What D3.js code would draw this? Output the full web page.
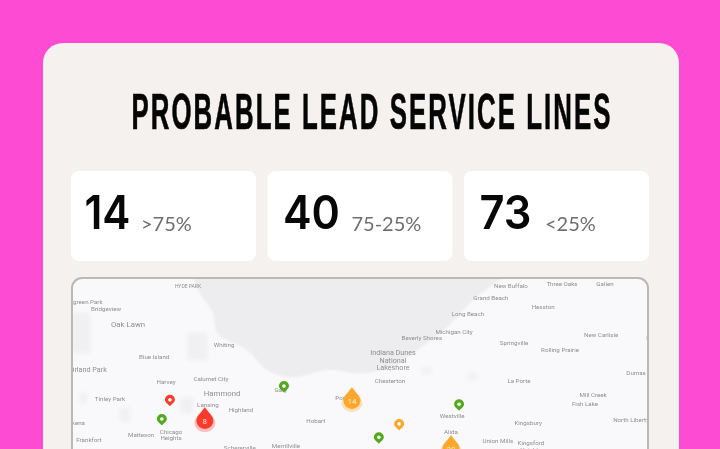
<!DOCTYPE html>
<html><head><meta charset="utf-8">
<style>html,body{margin:0;padding:0;background:#fd4bd3;overflow:hidden}svg{display:block}</style>
<script src="https://cdn.jsdelivr.net/npm/d3@7"></script></head>
<body><svg id="c" width="720" height="449"></svg>
<script>
const titleText = "PROBABLE LEAD SERVICE LINES";
const statValues = [14, 40, 73];
const statLabels = [">75%", "75-25%", "<25%"];
const placeNames = ["HYDE PARK","Evergreen Park","Bridgeview","Oak Lawn","Whiting","Blue Island","Orland Park","Harvey","Calumet City","Gary","Hammond","Tinley Park","Lansing","Highland","Hobart","Matteson","Chicago\nHeights","Frankfort","Schererville","Merrillville","Mokena","Portage","Indiana Dunes\nNational\nLakeshore","Chesterton","New Buffalo","Three Oaks","Galien","Grand Beach","Hesston","Long Beach","Michigan City","Beverly Shores","New Carlisle","Springville","Rolling Prairie","La Porte","Dumas","Mill Creek","Fish Lake","North Liberty","Westville","Kingsbury","Alida","Union Mills","Kingsford\nHeights","Lydick"];
const placeLon = [-87.588,-87.864,-87.801,-87.744,-87.494,-87.676,-87.848,-87.645,-87.528,-87.346,-87.499,-87.791,-87.536,-87.450,-87.255,-87.710,-87.632,-87.846,-87.453,-87.333,-87.885,-87.176,-87.054,-87.062,-86.747,-86.614,-86.502,-86.799,-86.663,-86.859,-86.895,-86.979,-86.512,-86.739,-86.619,-86.726,-86.421,-86.533,-86.554,-86.434,-86.900,-86.702,-86.903,-86.781,-86.695,-86.372];
const placeLat = [41.800,41.769,41.753,41.722,41.680,41.657,41.629,41.606,41.612,41.590,41.580,41.570,41.559,41.549,41.527,41.498,41.498,41.488,41.472,41.476,41.521,41.572,41.649,41.608,41.800,41.804,41.804,41.777,41.757,41.743,41.708,41.694,41.702,41.684,41.671,41.608,41.623,41.578,41.561,41.529,41.537,41.521,41.504,41.486,41.474,41.694];
const placeRank = [0,1,1,3,1,1,2,1,1,1,3,1,1,1,1,1,1,1,1,1,1,1,2,1,1,1,1,1,1,1,1,1,1,1,1,1,1,1,1,1,1,1,1,1,1,1];
const lakeLon = [-87.575,-87.557,-87.523,-87.512,-87.434,-87.382,-87.314,-87.226,-87.140,-87.062,-86.984,-86.913,-86.846,-86.768];
const lakeLat = [41.816,41.785,41.745,41.704,41.669,41.629,41.614,41.629,41.622,41.635,41.673,41.716,41.771,41.816];
const patchLon0 = [-87.89,-87.765,-87.869,-87.590,-87.609,-86.979,-86.859];
const patchLon1 = [-87.843,-87.739,-87.851,-87.538,-87.575,-86.953,-86.835];
const patchLat0 = [41.745,41.553,41.582,41.704,41.572,41.633,41.623];
const patchLat1 = [41.663,41.523,41.561,41.649,41.541,41.621,41.608];
const markerLon = [-87.635,-87.656,-87.544,-87.338,-87.161,-87.091,-87.038,-86.882,-86.903];
const markerLat = [41.566,41.527,41.529,41.594,41.570,41.490,41.517,41.557,41.472];
const markerRisk = ["high","low","high","low","mid","low","mid","low","mid"];
const markerCount = [null,null,8,null,14,null,null,null,30];

const riskColor = {high:"#fb3b2c", mid:"#fca72c", low:"#52a91f"};
const svg = d3.select("#c");
const defs = svg.append("defs");
defs.append("filter").attr("id","soft").append("feGaussianBlur").attr("stdDeviation",0.5);
defs.append("filter").attr("id","soft1").append("feGaussianBlur").attr("stdDeviation",1.2);
defs.append("filter").attr("id","soft2").append("feGaussianBlur").attr("stdDeviation",2);
defs.append("clipPath").attr("id","mapClip").append("rect")
  .attr("x",72).attr("y",278).attr("width",576).attr("height",190).attr("rx",10);

// panel
svg.append("rect").attr("x",43).attr("y",43).attr("width",636).attr("height",460).attr("rx",20).attr("fill","#f4f1ef");

// title
svg.append("g").attr("opacity",0.999).append("text").attr("x",372).attr("y",129).attr("text-anchor","middle")
  .attr("font-family","'Liberation Sans Narrow','Liberation Sans'").attr("font-weight",700)
  .attr("font-size",50).attr("fill","#050505").attr("stroke","#050505").attr("stroke-width",0.7)
  .attr("letter-spacing",4)
  .attr("textLength",481).attr("lengthAdjust","spacingAndGlyphs").text(titleText);

// stat cards
const cardX = d3.scaleBand().domain(d3.range(statValues.length)).range([71,649]).paddingInner(0.058);
const card = svg.selectAll("g.card").data(statValues).join("g").attr("class","card")
  .attr("opacity",0.999)
  .attr("transform",(d,i)=>`translate(${cardX(i)},171)`);
card.append("rect").attr("width",cardX.bandwidth()).attr("height",90).attr("rx",8).attr("fill","#fff");
card.append("text").attr("x",(d,i)=>[13.5,15.5,15.5][i]).attr("y",58)
  .attr("font-family","Inter").attr("font-weight",600).attr("font-size",47)
  .attr("fill","#070707").attr("textLength",(d,i)=>[46,57,52][i]).attr("lengthAdjust","spacingAndGlyphs").text(d=>d);
card.append("text").attr("x",(d,i)=>[70,84,81][i]).attr("y",60)
  .attr("font-family","Lato").attr("font-size",20).attr("fill","#6f6d6f").text((d,i)=>statLabels[i]);

// map
const xLon = d3.scaleLinear().domain([-87.89,-86.39]).range([72,648]);
const yLat = d3.scaleLinear().domain([41.816,41.468]).range([278,449]);
const map = svg.append("g").attr("clip-path","url(#mapClip)");
map.append("rect").attr("x",72).attr("y",278).attr("width",576).attr("height",190).attr("fill","#f9f8fa");
map.append("path").attr("fill","#edecef").attr("filter","url(#soft1)")
  .attr("d", d3.line().curve(d3.curveCatmullRom).x(i=>xLon(lakeLon[i])).y(i=>yLat(lakeLat[i]))(d3.range(lakeLon.length))+"Z");
map.append("g").attr("filter","url(#soft2)").selectAll("rect").data(patchLon0).join("rect")
  .attr("x",d=>xLon(d)).attr("y",(d,i)=>yLat(patchLat0[i]))
  .attr("width",(d,i)=>xLon(patchLon1[i])-xLon(d)).attr("height",(d,i)=>yLat(patchLat1[i])-yLat(patchLat0[i]))
  .attr("fill","#f0eff1");

// place labels
const rankSize = [5,6.2,7.2,7.8];
const labels = map.append("g").attr("filter","url(#soft)");
labels.selectAll("text").data(placeNames).join("text")
  .attr("text-anchor","middle").attr("font-family","Roboto")
  .attr("font-size",(d,i)=>rankSize[placeRank[i]]).attr("fill","#8f8e92")
  .each(function(d,i){
    const lines=d.split("\n"), t=d3.select(this), lh=rankSize[placeRank[i]]*1.05;
    lines.forEach((l,k)=>t.append("tspan").attr("x",xLon(placeLon[i]))
      .attr("y",yLat(placeLat[i])+2.5+(k-(lines.length-1)/2)*lh).text(l));
  });

// markers
const pin = "M0,5.5 C-1.5,3.5 -5,1.5 -5,-1 A5,5 0 1 1 5,-1 C5,1.5 1.5,3.5 0,5.5Z";
const drop = "M0,-12 C2,-8 8.5,-3.5 8.5,1.5 A8.5,8.5 0 1 1 -8.5,1.5 C-8.5,-3.5 -2,-8 0,-12Z";
const mk = map.append("g").selectAll("g").data(markerRisk).join("g")
  .attr("filter","url(#soft)")
  .attr("transform",(d,i)=>`translate(${xLon(markerLon[i])},${yLat(markerLat[i])})`);
mk.each(function(d,i){
  const g=d3.select(this), c=riskColor[d];
  if(markerCount[i]!==null){
    g.append("ellipse").attr("cx",0).attr("cy",4).attr("rx",10.5).attr("ry",9).attr("fill",c).attr("opacity",0.3);
    g.append("path").attr("d",drop).attr("fill",c);
    g.append("text").attr("text-anchor","middle").attr("y",5).attr("font-family","Roboto")
      .attr("font-size",8).attr("fill","#fff").attr("fill-opacity",0.85).text(markerCount[i]);
  } else {
    g.append("path").attr("d",pin).attr("fill",c);
    g.append("circle").attr("cy",-1).attr("r",1.8).attr("fill","#fff");
  }
});

// frame
svg.append("rect").attr("x",72).attr("y",278).attr("width",576).attr("height",190).attr("rx",10)
  .attr("fill","none").attr("stroke","#bcb8b8").attr("stroke-width",2);
</script></body></html>
